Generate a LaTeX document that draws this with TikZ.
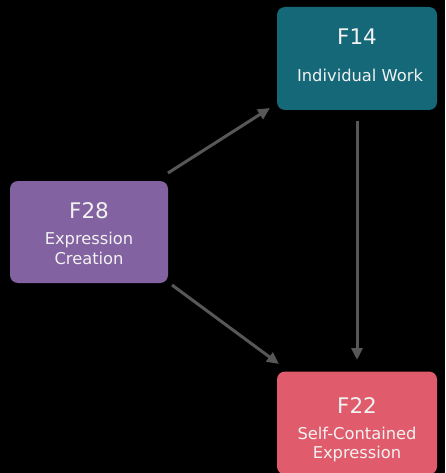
\documentclass[tikz,border=0pt]{standalone}
\usepackage{fontspec}
\setmainfont{DejaVu Sans}
\usetikzlibrary{arrows.meta}
\definecolor{tealbox}{HTML}{156878}
\definecolor{purplebox}{HTML}{8262A0}
\definecolor{pinkbox}{HTML}{E05C6C}
\definecolor{arrowgray}{HTML}{575757}
\definecolor{txt}{HTML}{F2F2F2}
\tikzset{
  box/.style={rounded corners=8pt, minimum width=160pt, minimum height=103pt, inner sep=0pt},
  ttl/.style={text=txt, anchor=base, inner sep=0pt, font=\fontsize{21.5}{22}\selectfont},
  sub/.style={text=txt, anchor=base, inner sep=0pt, font=\fontsize{16.3}{19}\selectfont},
  link/.style={draw=arrowgray, line width=3pt, -{Triangle[length=12pt,width=11pt]}}
}
\begin{document}
\begin{tikzpicture}[x=1pt,y=-1pt]
\fill[black] (0,0) rectangle (445,473);
\useasboundingbox (0,0) rectangle (445,473);
\node[box, fill=tealbox] (f14) at (357,58.5) {};
\node[ttl] (f14t) at (357,45) {F14};
\node[sub] (f14s) at (360,82) {Individual Work};
\node[box, fill=purplebox, minimum width=158pt, minimum height=102pt] (f28) at (89,232) {};
\node[ttl] (f28t) at (89,218) {F28};
\node[sub] (f28s1) at (89,244) {Expression};
\node[sub] (f28s2) at (89,264) {Creation};
\node[box, fill=pinkbox] (f22) at (357,423) {};
\node[ttl] (f22t) at (357,413) {F22};
\node[sub] (f22s1) at (357,439) {Self-Contained};
\node[sub] (f22s2) at (357,458) {Expression};
\coordinate (a1s) at (168,173);
\coordinate (a1e) at (270,108);
\coordinate (a2s) at (172,285);
\coordinate (a2e) at (279,364);
\coordinate (a3s) at (357,121);
\coordinate (a3e) at (357,360);
\draw[link] (a1s) -- (a1e);
\draw[link] (a2s) -- (a2e);
\draw[link] (a3s) -- (a3e);
\end{tikzpicture}
\end{document}
